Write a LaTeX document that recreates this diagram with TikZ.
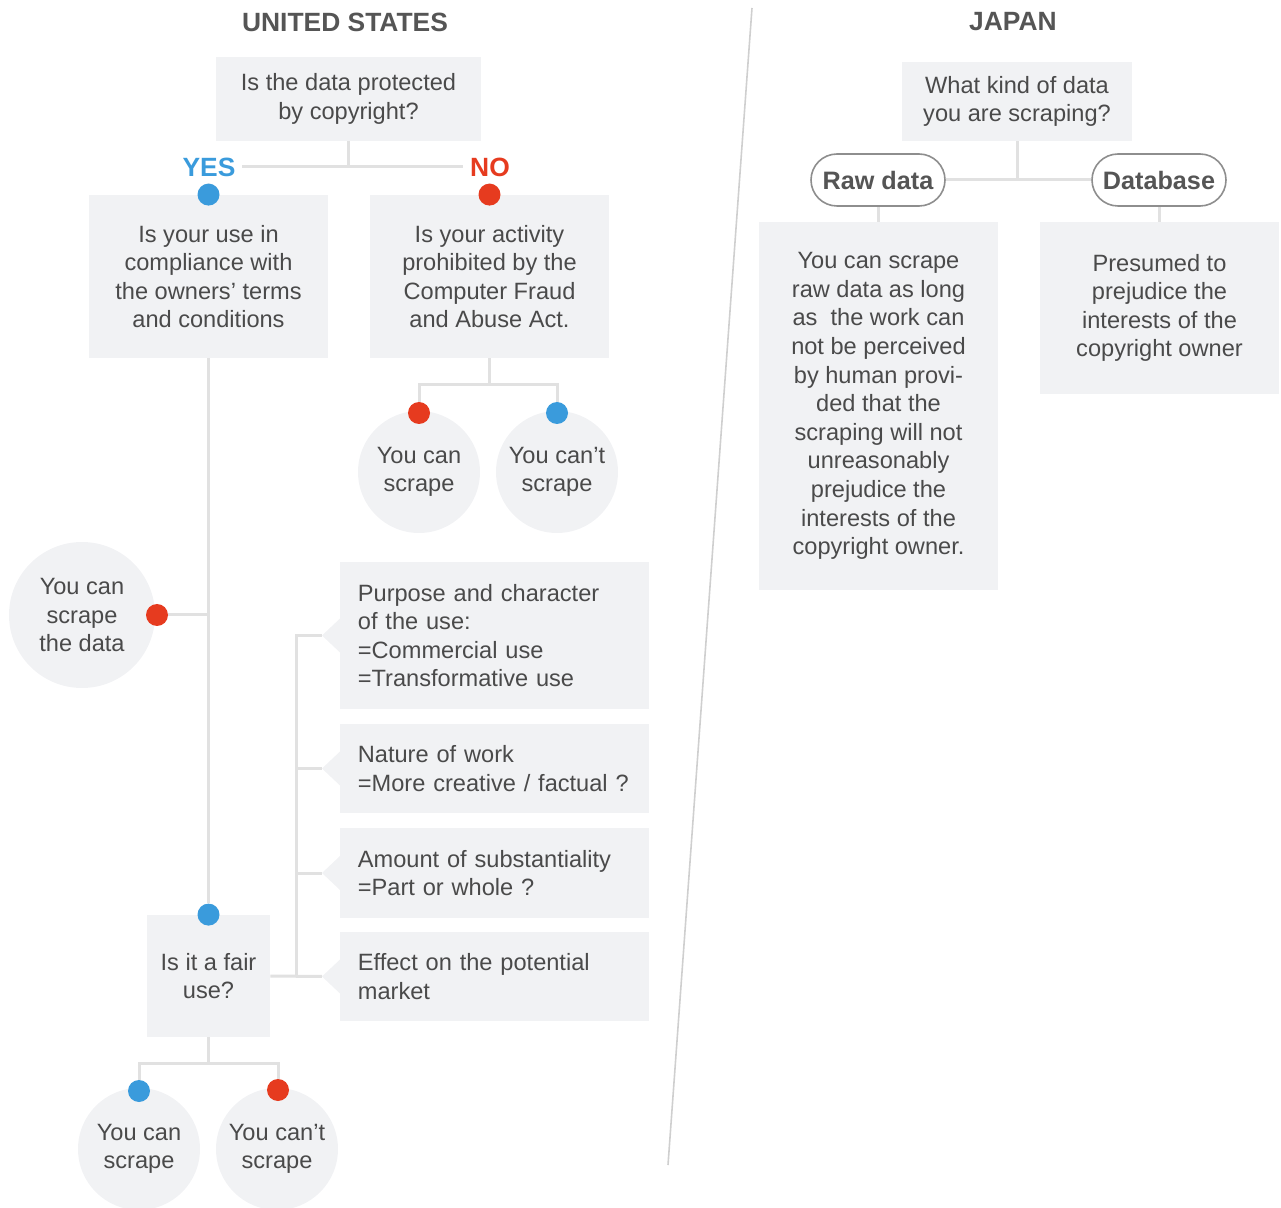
\documentclass[tikz,border=0pt]{standalone}
\usepackage{fontspec}
\setmainfont{Liberation Sans}
\usetikzlibrary{positioning, calc, backgrounds}
\usepackage{xcolor}
\definecolor{cBox}{HTML}{F1F2F4}
\definecolor{cLine}{HTML}{E1E1E1}
\definecolor{cText}{HTML}{4A4A4A}
\definecolor{cTitle}{HTML}{555555}
\definecolor{cBlue}{HTML}{3A9BDC}
\definecolor{cRed}{HTML}{E63B1F}
\definecolor{cPill}{HTML}{8E8E8E}
\definecolor{cDivider}{HTML}{CFCFCF}
\newcommand{\txtfont}{\fontsize{11.8}{14.3}\selectfont}
\newcommand{\headfont}{\fontsize{12.6}{15}\selectfont\bfseries}
\newcommand{\titlefont}{\fontsize{13.2}{15}\selectfont\bfseries}
\tikzset{
  qbox/.style={
    fill=cBox, text=cText, font=\txtfont, align=center,
    inner sep=0pt, minimum width=#1,
  },
  factorbox/.style={
    fill=cBox, text=cText, font=\txtfont, align=left,
    inner xsep=8.75pt, inner ysep=0pt, text width=137pt,
    minimum height=#1,
  },
  endcircle/.style={
    circle, fill=cBox, text=cText, font=\txtfont, align=center,
    inner sep=0pt, minimum size=#1,
  },
  endcircle/.default=61pt,
  pill/.style={
    draw=cPill, line width=0.8pt, fill=white, rounded corners=13pt,
    minimum width=67pt, minimum height=26pt, inner sep=0pt,
    font=\headfont, text=cTitle,
  },
  dot/.style={circle, fill=#1, minimum size=11pt, inner sep=0pt},
  link/.style={draw=cLine, line width=1.5pt},
  title/.style={font=\titlefont, text=cTitle},
}

\begin{document}
\begin{tikzpicture}[x=0.5pt, y=-0.5pt]
  \useasboundingbox (0,0) rectangle (1281,1208);

  % divider
  \coordinate (divTop) at (752,8);
  \coordinate (divBot) at (668,1165);
  \draw[cDivider, line width=0.8pt] (divTop) -- (divBot);

  % UNITED STATES
  \node[title] (usTitle) at (345,22) {UNITED STATES};

  \node[qbox=132.5pt, minimum height=42pt] (q1) at (348.5,99)
    {Is the data protected\\by copyright?};

  \node[title, text=cBlue] (yes) at (209,167) {YES};
  \node[title, text=cRed] (no) at (490,167) {NO};

  \node[qbox=119.5pt, minimum height=81.5pt] (q2) at (208.5,276.5)
    {Is your use in\\compliance with\\the owners’ terms\\and conditions};
  \node[qbox=119.5pt, minimum height=81.5pt] (q3) at (489.5,276.5)
    {Is your activity\\prohibited by the\\Computer Fraud\\and Abuse Act.};

  \node[endcircle] (canA) at (419,472) {You can\\scrape};
  \node[endcircle] (cantA) at (557,472) {You can’t\\scrape};

  \node[endcircle=73pt] (canData) at (82,615) {You can\\scrape\\the data};

  \node[qbox=61.5pt, minimum height=61pt] (q4) at (208.5,976)
    {Is it a fair\\use?};

  \node[endcircle] (canB) at (139,1149) {You can\\scrape};
  \node[endcircle] (cantB) at (277,1149) {You can’t\\scrape};

  % fair use factors
  \node[factorbox=73.5pt, anchor=west] (f1) at (340,635.5)
    {Purpose and character\\of the use:\\=Commercial use\\=Transformative use};
  \node[factorbox=44.5pt, anchor=west] (f2) at (340,768.5)
    {Nature of work\\=More creative / factual ?};
  \node[factorbox=45pt, anchor=west] (f3) at (340,873)
    {Amount of substantiality\\=Part or whole ?};
  \node[factorbox=44.5pt, anchor=west] (f4) at (340,976.5)
    {Effect on the potential\\market};

  \foreach \i in {1,...,4}{
    \coordinate (f\i tip) at ($(f\i.west)+(-9pt,0)$);
    \fill[cBox] ($(f\i.west)+(0,8.5pt)$) -- (f\i tip) -- ($(f\i.west)+(0,-8.5pt)$) -- cycle;
  }
  \coordinate (bar) at (296,0);

  % dots
  \node[dot=cBlue] (dYes) at (q2.north) {};
  \node[dot=cRed] (dNo) at (q3.north) {};
  \node[dot=cRed] (dCanA) at (419,413) {};
  \node[dot=cBlue] (dCantA) at (557,413) {};
  \node[dot=cRed] (dData) at (157,615) {};
  \node[dot=cBlue] (dFair) at (q4.north) {};
  \node[dot=cBlue] (dCanB) at (139,1091) {};
  \node[dot=cRed] (dCantB) at (278,1090) {};

  \coordinate (forkA) at (489.5,385);
  \coordinate (forkB) at (208.5,1063);

  % JAPAN
  \node[title] (jpTitle) at (1013,22) {JAPAN};

  \node[qbox=115pt, minimum height=39.5pt] (j1) at (1017,101.5)
    {What kind of data\\you are scraping?};

  \node[pill] (raw) at (878,180) {Raw data};
  \node[pill] (db) at (1159,180) {Database};

  \node[qbox=119.5pt, minimum height=184pt] (j2) at (878.5,406)
    {You can scrape\\raw data as long\\as\ \ the work can\\not be perceived\\by human provi-\\ded that the\\scraping will not\\unreasonably\\prejudice the\\interests of the\\copyright owner.};
  \node[qbox=119.5pt, minimum height=86pt] (j3) at (1159.5,308)
    {Presumed to\\prejudice the\\interests of the\\copyright owner};

  % connectors
  \begin{scope}[on background layer]
    \draw[link] (q1.south) -- (q1.south |- yes.east);
    \draw[link] (yes.east) -- (no.west);
    \draw[link] (yes.south) -- (dYes);
    \draw[link] (no.south) -- (dNo);

    \draw[link] (q3.south) -- (forkA);
    \draw[link] (dCanA) |- (forkA) -| (dCantA);

    \draw[link] (q2.south) -- (dFair);
    \draw[link] (dData) -- (dData -| q2.south);

    \draw[link] (q4.south) -- (forkB);
    \draw[link] (dCanB) |- (forkB) -| (dCantB);

    \draw[link] (q4.east) -- (f4tip);
    \draw[link] (f1tip) -| (bar |- f4tip);
    \draw[link] (bar |- f2tip) -- (f2tip);
    \draw[link] (bar |- f3tip) -- (f3tip);

    \draw[link] (j1.south) -- (j1.south |- raw.east);
    \draw[link] (raw.east) -- (db.west);
    \draw[link] (raw.south) -- (raw.south |- j2.north);
    \draw[link] (db.south) -- (db.south |- j3.north);
  \end{scope}

\end{tikzpicture}
\end{document}
